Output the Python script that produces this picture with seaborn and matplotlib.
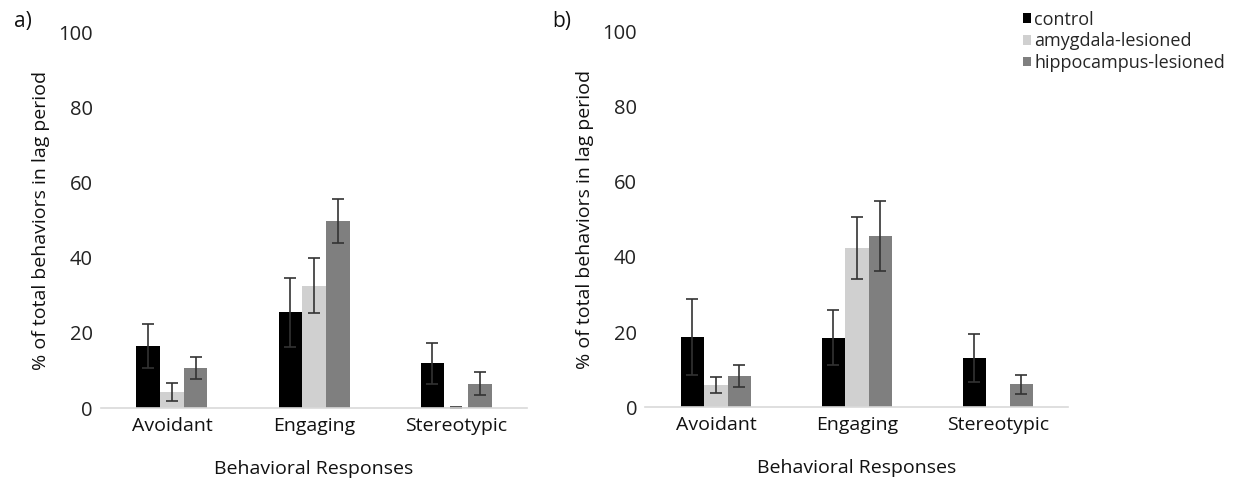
import numpy as np
import pandas as pd
import matplotlib
matplotlib.use("Agg")
import matplotlib.pyplot as plt
from matplotlib.patches import Patch
import seaborn as sns

# -----------------------------
# Data
# -----------------------------
categories = ["Avoidant", "Engaging", "Stereotypic"]
groups = ["control", "amygdala-lesioned", "hippocampus-lesioned"]
colors = ["#000000", "#d0d0d0", "#7f7f7f"]

# panel a
a_control = [16.5, 25.5, 11.9]
a_amygdala = [4.3, 32.6, 0.2]
a_hippocampus = [10.7, 49.7, 6.5]
a_control_err = [5.8, 9.1, 5.5]
a_amygdala_err = [2.3, 7.2, 0.2]
a_hippocampus_err = [3.0, 5.8, 3.1]

# panel b
b_control = [18.7, 18.5, 13.0]
b_amygdala = [5.9, 42.4, 0.0]
b_hippocampus = [8.2, 45.4, 6.1]
b_control_err = [10.0, 7.3, 6.4]
b_amygdala_err = [2.1, 8.3, np.nan]
b_hippocampus_err = [2.9, 9.3, 2.6]

yticks = [0, 20, 40, 60, 80, 100]

sns.set_theme(style="white")
plt.rcParams["font.family"] = ["Open Sans", "DejaVu Sans"]


def make_df(vals):
    rows = []
    for g, v in zip(groups, vals):
        for c, x in zip(categories, v):
            rows.append({"Category": c, "Group": g, "Value": x})
    return pd.DataFrame(rows)


def draw_panel(ax, vals, errs, letter, lx):
    df = make_df(vals)
    sns.barplot(
        data=df, x="Category", y="Value", hue="Group",
        order=categories, hue_order=groups, palette=colors,
        width=0.5, errorbar=None, legend=False, ax=ax,
        linewidth=0, saturation=1,
    )
    for cont, err in zip(ax.containers, errs):
        xs = [b.get_x() + b.get_width() / 2 for b in cont]
        ys = [b.get_height() for b in cont]
        ax.errorbar(xs, ys, yerr=err, fmt="none", ecolor="#333333",
                    elinewidth=1.2, capsize=4.5, capthick=1.2)
    ax.set_xlim(-0.5, 2.5)
    ax.set_ylim(0, 100)
    ax.set_yticks(yticks)
    ax.tick_params(axis="y", length=0, pad=6, labelsize=14.5, colors="#222222")
    ax.tick_params(axis="x", length=0, pad=6, labelsize=14, colors="#111111")
    for s in ["top", "right", "left"]:
        ax.spines[s].set_visible(False)
    ax.spines["bottom"].set_color("#d9d9d9")
    ax.spines["bottom"].set_linewidth(1.2)
    ax.set_xlabel("Behavioral Responses", fontsize=14, labelpad=18, color="#111111")
    ax.set_ylabel("% of total behaviors in lag period", fontsize=14,
                  labelpad=6, color="#111111")
    fig.text(lx, 0.955, letter, fontsize=15, ha="left", va="center",
             color="#111111")


fig = plt.figure(figsize=(12.36, 4.78), dpi=100)
ax1 = fig.add_axes([0.0817, 0.146, 0.3447, 0.787])
ax2 = fig.add_axes([0.5222, 0.148, 0.3422, 0.787])

draw_panel(ax1, [a_control, a_amygdala, a_hippocampus],
           [a_control_err, a_amygdala_err, a_hippocampus_err], "a)", 0.011)
draw_panel(ax2, [b_control, b_amygdala, b_hippocampus],
           [b_control_err, b_amygdala_err, b_hippocampus_err], "b)", 0.447)

handles = [Patch(facecolor=c, edgecolor="none") for c in colors]
fig.legend(handles, groups, loc="upper right", bbox_to_anchor=(0.997, 0.993),
           frameon=False, fontsize=13, handlelength=0.45, handleheight=0.45,
           handletextpad=0.2, labelspacing=0.2, borderaxespad=0)

plt.savefig("out.png", dpi=100)
